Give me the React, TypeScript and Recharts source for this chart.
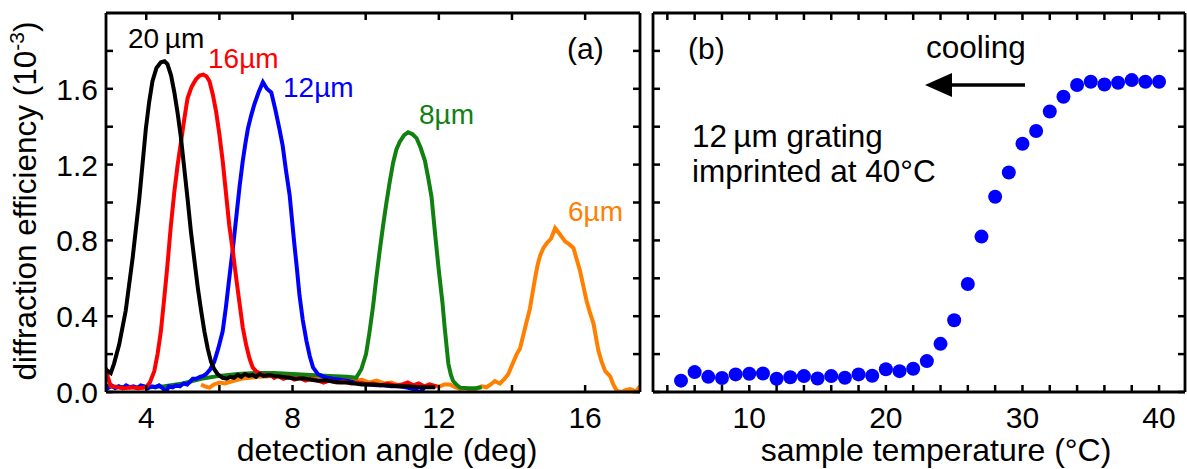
import React from "react";
import { LineChart, Line, XAxis, YAxis, ScatterChart, Scatter } from "recharts";

const FONT = "'Liberation Sans', Arial, Helvetica, sans-serif";

// panel (a): angle scans [deg, efficiency 1e-3]
const scan20um: [number, number][] = [
  [2.88, 0.12], [3.03, 0.1], [3.12, 0.15], [3.26, 0.25], [3.44, 0.43], [3.63, 0.71], [3.81, 1.02],
  [3.99, 1.39], [4.08, 1.53], [4.17, 1.64], [4.28, 1.71], [4.4, 1.74], [4.5, 1.745], [4.58, 1.73],
  [4.68, 1.67], [4.77, 1.58], [4.86, 1.47], [4.95, 1.34], [5.04, 1.18], [5.13, 1.02], [5.22, 0.85],
  [5.32, 0.69], [5.41, 0.55], [5.5, 0.43], [5.59, 0.32], [5.68, 0.23], [5.77, 0.16], [5.86, 0.12],
  [5.95, 0.095], [6.09, 0.075], [6.2, 0.07], [6.3, 0.08], [6.4, 0.075], [6.5, 0.09], [6.6, 0.08],
  [6.7, 0.095], [6.8, 0.085], [6.9, 0.09], [7.0, 0.08], [7.1, 0.095], [7.2, 0.085], [7.35, 0.09],
  [7.5, 0.085], [7.7, 0.08], [7.9, 0.075], [8.1, 0.07], [8.3, 0.072], [8.5, 0.065], [8.7, 0.06],
  [8.9, 0.062], [9.1, 0.055], [9.3, 0.05], [9.5, 0.05], [9.7, 0.045], [9.9, 0.04], [10.1, 0.04],
  [10.3, 0.038], [10.5, 0.035], [10.7, 0.033], [10.9, 0.03], [11.1, 0.03], [11.3, 0.028],
  [11.5, 0.025], [11.7, 0.025], [11.9, 0.025],
];

const scan16um: [number, number][] = [
  [2.88, 0.13], [2.95, 0.08], [3.03, 0.03], [3.2, 0.025], [3.4, 0.02], [3.6, 0.025], [3.8, 0.02],
  [3.99, 0.025], [4.1, 0.05], [4.22, 0.11], [4.31, 0.2], [4.4, 0.32], [4.49, 0.49], [4.58, 0.67],
  [4.67, 0.87], [4.77, 1.06], [4.86, 1.2], [4.95, 1.32], [5.04, 1.44], [5.13, 1.55], [5.24, 1.61],
  [5.36, 1.65], [5.46, 1.67], [5.56, 1.675], [5.65, 1.665], [5.73, 1.64], [5.82, 1.57], [5.91, 1.48],
  [6.0, 1.36], [6.09, 1.22], [6.18, 1.05], [6.27, 0.88], [6.37, 0.74], [6.46, 0.6], [6.55, 0.47],
  [6.64, 0.34], [6.73, 0.25], [6.82, 0.18], [6.91, 0.13], [7.0, 0.11], [7.14, 0.095], [7.28, 0.084],
  [7.4, 0.09], [7.5, 0.075], [7.6, 0.085], [7.75, 0.07], [7.9, 0.08], [8.05, 0.065], [8.2, 0.075],
  [8.35, 0.06], [8.5, 0.07], [8.7, 0.06], [8.85, 0.05], [9.0, 0.06], [9.2, 0.05], [9.4, 0.055],
  [9.6, 0.045], [9.8, 0.05], [10.0, 0.04], [10.2, 0.045], [10.4, 0.035], [10.6, 0.045], [10.8, 0.035],
  [11.0, 0.04], [11.15, 0.05], [11.3, 0.035], [11.45, 0.045], [11.6, 0.03], [11.75, 0.04], [11.94, 0.03],
];

const scan12um: [number, number][] = [
  [2.88, 0.04], [2.95, 0.02], [3.05, 0.035], [3.15, 0.02], [3.25, 0.03], [3.35, 0.02], [3.45, 0.035],
  [3.55, 0.025], [3.65, 0.03], [3.75, 0.02], [3.85, 0.035], [3.95, 0.03], [4.05, 0.02], [4.15, 0.03],
  [4.25, 0.025], [4.35, 0.035], [4.45, 0.02], [4.54, 0.0], [4.62, 0.03], [4.72, 0.025], [4.82, 0.035],
  [4.92, 0.03], [5.02, 0.045], [5.12, 0.04], [5.2, 0.055], [5.27, 0.07], [5.37, 0.07], [5.47, 0.08],
  [5.56, 0.085], [5.64, 0.095], [5.75, 0.12], [5.86, 0.16], [5.97, 0.23], [6.09, 0.32], [6.18, 0.45],
  [6.27, 0.6], [6.37, 0.76], [6.46, 0.92], [6.55, 1.08], [6.64, 1.22], [6.71, 1.31], [6.78, 1.39],
  [6.87, 1.46], [6.96, 1.52], [7.07, 1.58], [7.19, 1.635], [7.3, 1.6], [7.42, 1.58], [7.53, 1.49],
  [7.64, 1.39], [7.73, 1.3], [7.82, 1.17], [7.92, 1.04], [8.05, 0.78], [8.12, 0.65], [8.19, 0.51],
  [8.28, 0.38], [8.38, 0.27], [8.47, 0.19], [8.56, 0.13], [8.69, 0.095], [8.8, 0.085], [8.95, 0.075],
  [9.1, 0.07], [9.3, 0.065], [9.5, 0.06], [9.7, 0.05], [9.9, 0.045], [10.1, 0.04], [10.3, 0.035],
  [10.5, 0.035], [10.7, 0.03], [10.9, 0.03], [11.1, 0.025], [11.3, 0.015], [11.48, 0.0], [11.6, 0.02],
];

const scan8um: [number, number][] = [
  [2.88, 0.03], [3.5, 0.025], [4.0, 0.025], [4.5, 0.03], [5.0, 0.045], [5.5, 0.07], [6.0, 0.085],
  [6.5, 0.095], [7.0, 0.1], [7.5, 0.1], [8.0, 0.095], [8.5, 0.09], [9.0, 0.085], [9.5, 0.08],
  [9.74, 0.075], [9.88, 0.12], [10.01, 0.2], [10.1, 0.31], [10.2, 0.45], [10.29, 0.6], [10.38, 0.74],
  [10.47, 0.87], [10.56, 0.99], [10.65, 1.1], [10.75, 1.21], [10.84, 1.28], [10.93, 1.32],
  [11.05, 1.355], [11.16, 1.37], [11.28, 1.36], [11.39, 1.34], [11.5, 1.29], [11.62, 1.22],
  [11.71, 1.13], [11.8, 1.03], [11.9, 0.83], [12.0, 0.64], [12.1, 0.47], [12.16, 0.34], [12.26, 0.15],
  [12.33, 0.09], [12.39, 0.058], [12.5, 0.035], [12.58, 0.023], [12.8, 0.02], [13.0, 0.02], [13.17, 0.025],
];

const scan6um: [number, number][] = [
  [5.5, 0.04], [5.6, 0.03], [5.73, 0.023], [5.85, 0.04], [6.0, 0.05], [6.15, 0.045], [6.37, 0.058],
  [6.6, 0.07], [6.82, 0.075], [7.1, 0.08], [7.46, 0.084], [7.8, 0.085], [8.1, 0.08], [8.56, 0.085],
  [8.9, 0.075], [9.2, 0.07], [9.5, 0.075], [9.7, 0.06], [9.9, 0.065], [10.1, 0.05], [10.3, 0.06],
  [10.5, 0.045], [10.7, 0.05], [10.9, 0.035], [11.1, 0.04], [11.3, 0.03], [11.5, 0.035], [11.7, 0.025],
  [11.85, 0.03], [12.03, 0.03], [12.15, 0.04], [12.3, 0.04], [12.45, 0.025], [12.58, 0.016],
  [12.75, 0.02], [12.9, 0.0], [13.05, 0.02], [13.17, 0.03], [13.3, 0.025], [13.42, 0.04], [13.53, 0.058],
  [13.67, 0.045], [13.8, 0.07], [13.9, 0.095], [14.04, 0.16], [14.13, 0.2], [14.22, 0.23], [14.36, 0.34],
  [14.49, 0.44], [14.56, 0.52], [14.63, 0.6], [14.7, 0.67], [14.77, 0.72], [14.86, 0.76], [14.95, 0.785],
  [15.07, 0.81], [15.18, 0.865], [15.32, 0.83], [15.45, 0.795], [15.56, 0.78], [15.68, 0.76],
  [15.77, 0.7], [15.86, 0.64], [15.95, 0.56], [16.04, 0.48], [16.13, 0.42], [16.23, 0.36], [16.36, 0.22],
  [16.45, 0.16], [16.55, 0.11], [16.68, 0.084], [16.77, 0.04], [16.87, 0.005], [17.0, 0.0],
  [17.1, 0.01], [17.23, 0.015], [17.3, 0.01], [17.37, 0.0], [17.5, 0.03],
];

// panel (b): cooling run of the 12 um grating
const temperatures = [
  5, 6, 7, 8, 9, 10, 11, 12, 13, 14, 15, 16, 17, 18, 19, 20, 21, 22,
  23, 24, 25, 26, 27, 28, 29, 30, 31, 32, 33, 34, 35, 36, 37, 38, 39, 40,
];
const efficiency = [
  0.06, 0.105, 0.08, 0.074, 0.093, 0.096, 0.098, 0.07, 0.078, 0.084, 0.071, 0.084, 0.075, 0.093,
  0.086, 0.12, 0.11, 0.123, 0.163, 0.254, 0.379, 0.57, 0.82, 1.03, 1.158, 1.31, 1.377, 1.48,
  1.558, 1.62, 1.637, 1.623, 1.632, 1.646, 1.637, 1.637,
];

const angleTicks = [4, 6, 8, 10, 12, 14, 16];
const angleLabels = [4, 8, 12, 16];
const tempTicks = [4, 6, 8, 10, 12, 14, 16, 18, 20, 22, 24, 26, 28, 30, 32, 34, 36, 38, 40];
const tempLabels = [10, 20, 30, 40];
const effTicks = [0, 0.2, 0.4, 0.6, 0.8, 1.0, 1.2, 1.4, 1.6, 1.8];
const effLabels = [0, 0.4, 0.8, 1.2, 1.6];

const toXY = (arr: [number, number][]) => arr.map(([x, y]) => ({ x, y }));
const tempPoints = temperatures.map((t, i) => ({ x: t, y: efficiency[i] }));

// tick labels only; the tick marks come from recharts (negative tickSize = inward)
function labelFor(side: string, labels: number[] | null, fmt: (v: number) => string = (v) => String(v)) {
  return (props: any) => {
    const { x, y, payload } = props;
    const v = payload.value;
    const show = labels != null && labels.some((l) => Math.abs(l - v) < 1e-9);
    if (!show) return <g />;
    if (side === "bottom")
      return (
        <text x={x} y={y + 36} textAnchor="middle" fontSize={30} fontFamily={FONT} fill="#000">
          {fmt(v)}
        </text>
      );
    return (
      <text x={x - 8} y={y + 11} textAnchor="end" fontSize={30} fontFamily={FONT} fill="#000">
        {fmt(v)}
      </text>
    );
  };
}

const axisCommon = {
  tickSize: -7,
  tickMargin: 7,
  tickLine: { stroke: "#000", strokeWidth: 2.5 },
  stroke: "#000",
  interval: 0 as const,
  axisLine: { stroke: "#000", strokeWidth: 2.8 },
  allowDataOverflow: true,
};

const LW = 4;

export default function App() {
  return (
    <div style={{ position: "absolute", left: 0, top: 0, width: 1187, height: 469, background: "#fff" }}>
      <div style={{ position: "absolute", left: 0, top: 0 }}>
        <LineChart width={650} height={469} margin={{ top: 12, right: 9, bottom: 0, left: 0 }}>
          <XAxis xAxisId="b" type="number" dataKey="x" domain={[2.9, 17.5]} ticks={angleTicks} height={77}
            tick={labelFor("bottom", angleLabels)} {...axisCommon} />
          <XAxis xAxisId="t" orientation="top" type="number" dataKey="x" domain={[2.9, 17.5]} ticks={angleTicks}
            height={1} tick={labelFor("top", null)} {...axisCommon} />
          <YAxis yAxisId="l" type="number" dataKey="y" domain={[0, 2]} ticks={effTicks} width={106}
            tick={labelFor("left", effLabels, (v) => v.toFixed(1))} {...axisCommon} />
          <YAxis yAxisId="r" orientation="right" type="number" dataKey="y" domain={[0, 2]} ticks={effTicks}
            width={1} tick={labelFor("right", null)} {...axisCommon} />
          {/* invisible series so that the mirrored frame axes get a domain */}
          <Line xAxisId="t" yAxisId="r" data={toXY(scan20um)} dataKey="y" stroke="none" dot={false}
            activeDot={false} isAnimationActive={false} />
          <Line xAxisId="b" yAxisId="l" data={toXY(scan6um)} dataKey="y" type="linear" dot={false}
            stroke="#ff8000" strokeWidth={LW} isAnimationActive={false} />
          <Line xAxisId="b" yAxisId="l" data={toXY(scan8um)} dataKey="y" type="linear" dot={false}
            stroke="#108010" strokeWidth={LW} isAnimationActive={false} />
          <Line xAxisId="b" yAxisId="l" data={toXY(scan12um)} dataKey="y" type="linear" dot={false}
            stroke="#0000ff" strokeWidth={LW} isAnimationActive={false} />
          <Line xAxisId="b" yAxisId="l" data={toXY(scan16um)} dataKey="y" type="linear" dot={false}
            stroke="#ff0000" strokeWidth={LW} isAnimationActive={false} />
          <Line xAxisId="b" yAxisId="l" data={toXY(scan20um)} dataKey="y" type="linear" dot={false}
            stroke="#000000" strokeWidth={LW} isAnimationActive={false} />
        </LineChart>
      </div>
      <div style={{ position: "absolute", left: 650, top: 0 }}>
        <ScatterChart width={537} height={469} margin={{ top: 12, right: 1, bottom: 0, left: 2 }}>
          <XAxis xAxisId="b" type="number" dataKey="x" domain={[2.95, 41.9]} ticks={tempTicks} height={77}
            tick={labelFor("bottom", tempLabels)} {...axisCommon} />
          <XAxis xAxisId="t" orientation="top" type="number" dataKey="x" domain={[2.95, 41.9]} ticks={tempTicks}
            height={1} tick={labelFor("top", null)} {...axisCommon} />
          <YAxis yAxisId="l" type="number" dataKey="y" domain={[0, 2]} ticks={effTicks} width={1}
            tick={labelFor("left", null)} {...axisCommon} />
          <YAxis yAxisId="r" orientation="right" type="number" dataKey="y" domain={[0, 2]} ticks={effTicks}
            width={1} tick={labelFor("right", null)} {...axisCommon} />
          <Scatter xAxisId="t" yAxisId="r" data={tempPoints} isAnimationActive={false} shape={() => <g />} />
          <Scatter xAxisId="b" yAxisId="l" data={tempPoints} fill="#0000ff" isAnimationActive={false}
            shape={(p: any) => <circle cx={p.cx} cy={p.cy} r={7} fill="#0000ff" />} />
        </ScatterChart>
      </div>
      <svg width={1187} height={469} style={{ position: "absolute", left: 0, top: 0, pointerEvents: "none" }}
        fontFamily={FONT}>
        <text transform="translate(36,201) rotate(-90)" textAnchor="middle" fontSize={31.5} fill="#000">
          diffraction efficiency (10<tspan dy={-12} fontSize={21}>-3</tspan><tspan dy={12}>)</tspan>
        </text>
        <text x={387} y={461} textAnchor="middle" fontSize={32} fill="#000">detection angle (deg)</text>
        <text x={936} y={461} textAnchor="middle" fontSize={32} fill="#000">sample temperature (°C)</text>
        <text x={128} y={48} fontSize={28} fill="#000">20{"\u2009"}µm</text>
        <text x={208} y={68} fontSize={28} fill="#ff0000">16µm</text>
        <text x={283} y={97} fontSize={28} fill="#0000ff">12µm</text>
        <text x={419} y={124} fontSize={28} fill="#108010">8µm</text>
        <text x={568} y={221} fontSize={28} fill="#ff8000">6µm</text>
        <text x={567} y={59} fontSize={30} fill="#000">(a)</text>
        <text x={688} y={59} fontSize={30} fill="#000">(b)</text>
        <text x={926} y={58} fontSize={31.5} fill="#000">cooling</text>
        <line x1={948} y1={85} x2={1025} y2={85} stroke="#000" strokeWidth={3.5} />
        <polygon points="925,85 952,73 952,97" fill="#000" />
        <text x={692} y={147} fontSize={31.5} fill="#000">12{"\u2009"}µm grating</text>
        <text x={692} y={182} fontSize={31.5} fill="#000">imprinted at 40°C</text>
      </svg>
    </div>
  );
}
